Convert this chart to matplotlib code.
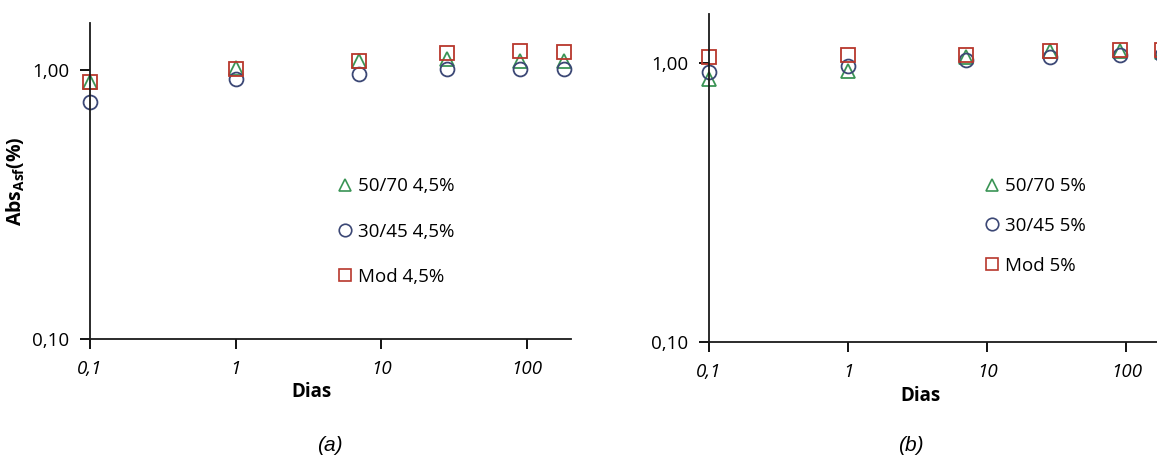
import matplotlib
matplotlib.use('Agg')
import matplotlib.pyplot as plt
from matplotlib.ticker import FixedLocator, NullLocator

plt.rcParams['font.family'] = ['Open Sans', 'DejaVu Sans']
plt.rcParams['mathtext.fontset'] = 'custom'
plt.rcParams['mathtext.rm'] = 'Open Sans'
plt.rcParams['mathtext.bf'] = 'Open Sans:bold'

# dados (dias e absorção)
dias = [0.1, 1, 7, 28, 90, 180]

a_5070 = [0.90, 1.02, 1.08, 1.10, 1.08, 1.08]
a_3045 = [0.76, 0.93, 0.97, 1.01, 1.01, 1.01]
a_mod = [0.90, 1.01, 1.08, 1.16, 1.18, 1.17]

b_5070 = [0.88, 0.94, 1.05, 1.11, 1.11, 1.10]
b_3045 = [0.93, 0.98, 1.03, 1.05, 1.07, 1.07]
b_mod = [1.05, 1.07, 1.07, 1.11, 1.12, 1.12]

labels_a = ['50/70 4,5%', '30/45 4,5%', 'Mod 4,5%']
labels_b = ['50/70 5%', '30/45 5%', 'Mod 5%']

verde = '#3a9455'
azul = '#3b4775'
vermelho = '#b8372c'

fig = plt.figure(figsize=(11.57, 4.65), dpi=100)
ax_a = fig.add_axes([0.0778, 0.271, 0.4157, 0.680])
ax_b = fig.add_axes([0.6128, 0.2645, 0.397, 0.705])


def desenha(ax, s1, s2, s3, labels, leg_anchor, spacing):
    kw = dict(linestyle='none', markerfacecolor='none', markersize=10,
              markeredgewidth=1.3, clip_on=False)
    ax.plot(dias, s1, marker='^', color=verde, label=labels[0], **kw)
    ax.plot(dias, s2, marker='o', color=azul, label=labels[1], **kw)
    ax.plot(dias, s3, marker='s', color=vermelho, label=labels[2], **kw)
    ax.set_xscale('log')
    ax.set_yscale('log')
    ax.set_xlim(0.1, 200)
    ax.set_ylim(0.1, 1.5)
    ax.spines['top'].set_visible(False)
    ax.spines['right'].set_visible(False)
    for s in ['left', 'bottom']:
        ax.spines[s].set_linewidth(1.3)
        ax.spines[s].set_color('#1a1a1a')
    ax.xaxis.set_major_locator(FixedLocator([0.1, 1, 10, 100]))
    ax.xaxis.set_minor_locator(NullLocator())
    ax.yaxis.set_major_locator(FixedLocator([0.1, 1]))
    ax.yaxis.set_minor_locator(NullLocator())
    ax.set_xticklabels(['0,1', '1', '10', '100'], fontstyle='italic', fontsize=13.5)
    ax.set_yticklabels(['0,10', '1,00'], fontsize=13.5)
    ax.tick_params(axis='both', direction='out', length=7, width=1.3, pad=8)
    ax.set_xlabel('Dias', fontsize=13.5, fontweight='bold')
    ax.xaxis.set_label_coords(0.46, -0.135)
    leg = ax.legend(loc='upper left', bbox_to_anchor=leg_anchor, frameon=False,
                    fontsize=13.5, handlelength=0.7, handletextpad=0.35,
                    labelspacing=spacing, borderaxespad=0)
    for h in leg.legend_handles:
        h.set_markersize(9)
        h.set_markeredgewidth(1.2)


desenha(ax_a, a_5070, a_3045, a_mod, labels_a, (0.5, 0.535), 1.45)
desenha(ax_b, b_5070, b_3045, b_mod, labels_b, (0.585, 0.525), 1.15)

ax_a.set_ylabel(r'$\mathbf{Abs_{Asf}}$' + '(%)', fontsize=14, fontweight='bold')
ax_a.yaxis.set_label_coords(-0.13, 0.5)

fig.text(0.285, 0.03, '(a)', fontsize=15, fontstyle='italic', family='Liberation Sans', ha='center')
fig.text(0.787, 0.03, '(b)', fontsize=15, fontstyle='italic', family='Liberation Sans', ha='center')

fig.savefig('out.png', dpi=100)
plt.close(fig)
